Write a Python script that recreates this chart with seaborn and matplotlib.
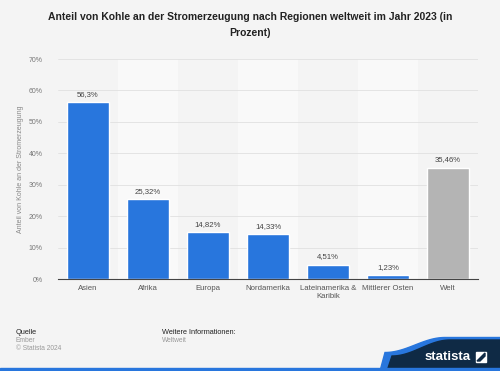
import matplotlib
matplotlib.use("Agg")
import matplotlib.pyplot as plt
import seaborn as sns
import pandas as pd
import numpy as np
from matplotlib.patches import Polygon, Rectangle

categories = ["Asien", "Afrika", "Europa", "Nordamerika", "Lateinamerika &\nKaribik", "Mittlerer Osten", "Welt"]
values = [56.3, 25.32, 14.82, 14.33, 4.51, 1.23, 35.46]
labels = ["56,3%", "25,32%", "14,82%", "14,33%", "4,51%", "1,23%", "35,46%"]
yticks = [0, 10, 20, 30, 40, 50, 60, 70]

BG = "#f4f4f4"
BLUE = "#2876dd"
GRAY = "#b4b4b4"

sns.set_theme(style="white")
plt.rcParams["font.family"] = ["Liberation Sans", "DejaVu Sans"]

fig = plt.figure(figsize=(5, 3.71), dpi=100, facecolor=BG)
ax = fig.add_axes([58/500, 1-279/371, 420/500, 220/371])
ax.set_facecolor(BG)

df = pd.DataFrame({"cat": categories, "val": values})
colors = [BLUE]*6 + [GRAY]
sns.barplot(data=df, x="cat", y="val", hue="cat", palette=colors, legend=False,
            width=0.7, ax=ax, zorder=3, saturation=1)

# alternating bands
for i in range(len(categories)):
    if i % 2 == 1:
        ax.axvspan(i-0.5, i+0.5, color="#f9f9f9", zorder=0, lw=0)

ax.set_xlim(-0.5, len(categories)-0.5)
ax.set_ylim(0, 70)
ax.set_yticks(yticks)
ax.set_yticklabels([f"{t}%" for t in yticks], fontsize=5, color="#777777")
ax.yaxis.grid(True, color="#e0e0e0", lw=0.6, zorder=1)
ax.set_axisbelow(True)
ax.tick_params(axis="y", length=0, pad=11)
ax.tick_params(axis="x", length=0, pad=4, labelsize=5.6, labelcolor="#555555")
for s in ["top", "right", "left"]:
    ax.spines[s].set_visible(False)
ax.spines["bottom"].set_color("#444444")
ax.spines["bottom"].set_linewidth(0.8)
ax.spines["bottom"].set_zorder(5)
ax.set_xlabel("")
ax.set_ylabel("Anteil von Kohle an der Stromerzeugung", fontsize=5, color="#888888", labelpad=3)

for i, (v, l) in enumerate(zip(values, labels)):
    ax.text(i, v + 1.4, l, ha="center", va="bottom", fontsize=5.6, color="#444444", zorder=4)

fig.text(0.5, 1-25/371, "Anteil von Kohle an der Stromerzeugung nach Regionen weltweit im Jahr 2023 (in\nProzent)",
         ha="center", va="center", fontsize=7.5, fontweight="bold", color="#222222", linespacing=1.75)

# footer
fig.text(16/500, 1-332/371, "Quelle", fontsize=5.3, color="#222222", va="center")
fig.text(16/500, 1-340/371, "Ember", fontsize=4.8, color="#999999", va="center")
fig.text(16/500, 1-348/371, "© Statista 2024", fontsize=4.8, color="#999999", va="center")
fig.text(162/500, 1-332/371, "Weitere Informationen:", fontsize=5.3, color="#222222", va="center")
fig.text(162/500, 1-340/371, "Weltweit", fontsize=4.8, color="#999999", va="center")

# logo shape
xs = np.linspace(385, 445, 40)
top_curve = 371 - (354 - (354-339) * (1 - np.cos(np.pi*(xs-385)/60))/2)
pts_blue = [(380/500, 0)] + [(x/500, (y+1.5)/371) for x, y in zip(xs, top_curve)] + [(1, (371-337.5)/371), (1, 0)]
fig.patches.append(Polygon(pts_blue, closed=True, transform=fig.transFigure, color=BLUE, zorder=0))
xs2 = np.linspace(392, 450, 40)
top2 = 371 - (356 - (356-340) * (1 - np.cos(np.pi*(xs2-392)/58))/2)
pts_dark = [(388/500, 3/371)] + [(x/500, y/371) for x, y in zip(xs2, top2)] + [(1, (371-340)/371), (1, 3/371)]
fig.patches.append(Polygon(pts_dark, closed=True, transform=fig.transFigure, color="#0f2a45", zorder=1))
fig.patches.append(Rectangle((0, 0), 1, 3/371, transform=fig.transFigure, color=BLUE, zorder=2))
fig.text(448/500, 1-357/371, "statista", fontsize=9.5, fontweight="bold", color="white", ha="center", va="center")
fig.patches.append(Polygon([(476/500, 1-352/371), (486/500, 1-352/371), (486/500, 1-362/371), (476/500, 1-362/371)],
                           closed=True, transform=fig.transFigure, color="white", zorder=3))
fig.patches.append(Polygon([(477/500, 1-361/371), (485/500, 1-353/371), (485/500, 1-356/371), (480/500, 1-361/371)],
                           closed=True, transform=fig.transFigure, color="#0f2a45", zorder=4))

fig.savefig("out.png", dpi=100, facecolor=BG)
